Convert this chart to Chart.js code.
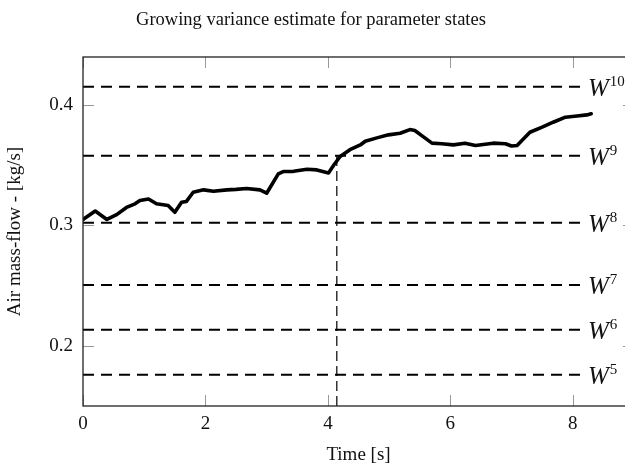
<!DOCTYPE html>
<html>
<head>
<meta charset="utf-8">
<script src="https://cdn.jsdelivr.net/npm/chart.js@4/dist/chart.umd.min.js"></script>
<style>
  html, body { margin: 0; padding: 0; background: #fff; overflow: hidden; }
  #wrap { width: 640px; height: 470px; }
</style>
</head>
<body>
<div id="wrap"><canvas id="c" width="640" height="470"></canvas></div>
<script>
// Estimated air mass-flow over time
const timeS = [0, 0.2, 0.39, 0.55, 0.71, 0.85, 0.93, 1.07, 1.2, 1.39, 1.5, 1.61, 1.69, 1.8, 1.97, 2.13, 2.35, 2.5, 2.67, 2.89, 3.0, 3.19, 3.27, 3.44, 3.66, 3.82, 4.01, 4.1, 4.2, 4.36, 4.53, 4.61, 4.8, 4.99, 5.18, 5.34, 5.42, 5.55, 5.7, 5.86, 6.05, 6.24, 6.41, 6.7, 6.9, 7.0, 7.09, 7.3, 7.5, 7.68, 7.88, 8.07, 8.23, 8.3];
const airFlow = [0.305, 0.312, 0.305, 0.309, 0.315, 0.318, 0.3207, 0.322, 0.318, 0.3166, 0.311, 0.3193, 0.320, 0.3276, 0.3296, 0.3285, 0.3296, 0.330, 0.3307, 0.3296, 0.3268, 0.3429, 0.3448, 0.345, 0.3467, 0.3462, 0.3437, 0.3505, 0.3573, 0.363, 0.3669, 0.370, 0.3728, 0.3753, 0.3766, 0.3797, 0.3789, 0.374, 0.3684, 0.3679, 0.367, 0.3684, 0.3664, 0.3684, 0.3679, 0.366, 0.3664, 0.3775, 0.3817, 0.3858, 0.390, 0.391, 0.3919, 0.3928];

// Parameter state levels W^k
const stateExponents = ['5', '6', '7', '8', '9', '10'];
const stateLevels = [0.176, 0.2133, 0.2506, 0.3022, 0.358, 0.4152];
const levelSpan = [0, 8.2];

// Switch time (vertical marker) and the level it reaches
const switchTime = 4.145;
const switchLevel = 0.358;

const xTicks = [0, 2, 4, 6, 8];
const yTicks = [0.2, 0.3, 0.4];

const SERIF = '"Liberation Serif", "DejaVu Serif", serif';

const datasets = [{
  data: timeS.map((t, i) => ({ x: t, y: airFlow[i] })),
  borderColor: '#000',
  borderWidth: 3.6,
  pointRadius: 0,
  tension: 0,
  borderJoinStyle: 'round',
  borderCapStyle: 'round'
}];
stateLevels.forEach(v => {
  datasets.push({
    data: [{ x: levelSpan[0], y: v }, { x: levelSpan[1], y: v }],
    borderColor: '#000',
    borderWidth: 2,
    borderDash: [11, 7],
    pointRadius: 0
  });
});
datasets.push({
  data: [{ x: switchTime, y: 0.15 }, { x: switchTime, y: switchLevel }],
  borderColor: '#333',
  borderWidth: 1.5,
  borderDash: [10, 5],
  pointRadius: 0
});

// Frame, inward tick marks, title and level labels
const decor = {
  id: 'decor',
  afterDraw(chart) {
    const { ctx, chartArea: a, scales } = chart;
    const xs = scales.x, ys = scales.y;
    ctx.save();
    ctx.strokeStyle = '#999';
    ctx.lineWidth = 1;
    const L = 11;
    xTicks.forEach(t => {
      const px = Math.round(xs.getPixelForValue(t)) + 0.5;
      ctx.beginPath();
      ctx.moveTo(px, a.bottom); ctx.lineTo(px, a.bottom - L);
      ctx.moveTo(px, a.top); ctx.lineTo(px, a.top + L);
      ctx.stroke();
    });
    yTicks.forEach(t => {
      const py = Math.round(ys.getPixelForValue(t)) + 0.5;
      ctx.beginPath();
      ctx.moveTo(a.left, py); ctx.lineTo(a.left + L, py);
      ctx.moveTo(a.right, py); ctx.lineTo(a.right - L, py);
      ctx.stroke();
    });
    ctx.strokeStyle = '#222';
    ctx.lineWidth = 1.3;
    ctx.strokeRect(a.left, a.top, a.right - a.left, a.bottom - a.top);

    ctx.fillStyle = '#111';
    ctx.font = '18.5px ' + SERIF;
    ctx.textAlign = 'center';
    ctx.textBaseline = 'middle';
    ctx.fillText('Growing variance estimate for parameter states', 311, 20);

    const lx = xs.getPixelForValue(levelSpan[1]) + 3;
    stateLevels.forEach((v, i) => {
      const py = ys.getPixelForValue(v);
      ctx.font = 'italic 25px ' + SERIF;
      ctx.textAlign = 'left';
      ctx.textBaseline = 'alphabetic';
      ctx.fillText('W', lx, py + 9);
      const w = ctx.measureText('W').width;
      ctx.font = '15px ' + SERIF;
      ctx.fillText(stateExponents[i], lx + w + 1, py - 1);
    });
    ctx.restore();
  }
};

new Chart(document.getElementById('c'), {
  type: 'line',
  data: { datasets },
  options: {
    responsive: false,
    animation: false,
    layout: { padding: { top: 57, right: 6, left: 0, bottom: 0 } },
    plugins: { legend: { display: false }, tooltip: { enabled: false }, title: { display: false } },
    scales: {
      x: {
        type: 'linear',
        min: 0, max: 9,
        afterBuildTicks: s => { s.ticks = xTicks.map(v => ({ value: v })); },
        afterFit: s => { s.height = 64; },
        grid: { display: false, drawTicks: false },
        border: { display: false },
        ticks: { color: '#111', font: { family: SERIF, size: 19 }, padding: 7 },
        title: { display: true, text: 'Time [s]', color: '#111', font: { family: SERIF, size: 19 }, padding: { top: 0 } }
      },
      y: {
        type: 'linear',
        min: 0.15, max: 0.44,
        afterBuildTicks: s => { s.ticks = yTicks.map(v => ({ value: v })); },
        afterFit: s => { s.width = 83; },
        grid: { display: false, drawTicks: false },
        border: { display: false },
        ticks: { color: '#111', font: { family: SERIF, size: 19 }, padding: 10, callback: v => v.toFixed(1) },
        title: { display: true, text: 'Air mass-flow - [kg/s]', color: '#111', font: { family: SERIF, size: 19 }, padding: { bottom: 4 } }
      }
    }
  },
  plugins: [decor]
});
</script>
</body>
</html>
